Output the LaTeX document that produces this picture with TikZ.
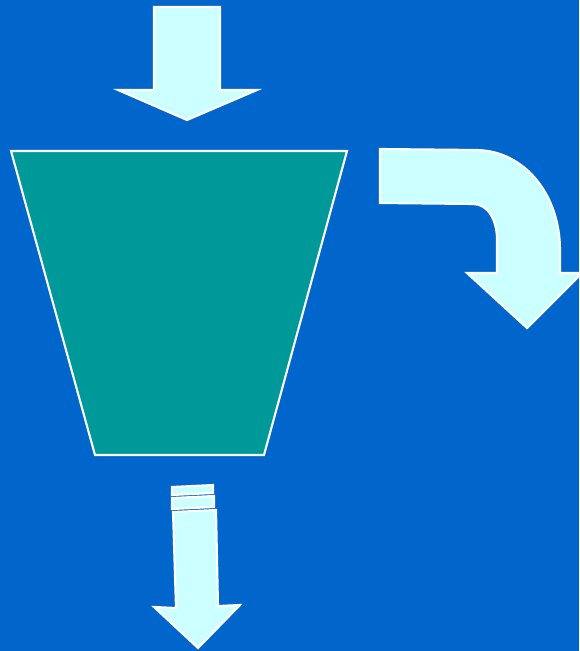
\documentclass[tikz,border=0pt]{standalone}
\usepackage{tikz}
\definecolor{FlowBlue}{HTML}{0066CC}
\definecolor{FlowTeal}{HTML}{009999}
\definecolor{FlowIce}{HTML}{CCFFFF}
\begin{document}
\begin{tikzpicture}[
      x=0.02cm,y=-0.02cm,
      vessel/.style={draw=white,fill=FlowTeal,line width=1.2pt,line join=miter},
      flowarrow/.style={draw=white,fill=FlowIce,line width=1.2pt,line join=miter}
    ]
    \fill[FlowBlue] (0,0) rectangle (579,651);
    \path[use as bounding box] (0,0) rectangle (579,651);

    % feed arrow
    \draw[flowarrow] (154,7) -- (220,7) -- (220,90) -- (257,90) -- (187,120)
      -- (118,90) -- (154,90) -- cycle;

    % vessel
    \draw[vessel] (11,151) -- (347,151) -- (264,455) -- (95,455) -- cycle;

    % overflow arrow
    \draw[flowarrow] (380,149) -- (477,150)
      .. controls (525,151) and (560,195) .. (560,250)
      -- (560,273) -- (582,273) -- (527,328) -- (467,273) -- (497,273)
      -- (497,240) .. controls (497,220) and (488,204) .. (473,204)
      -- (380,203) -- cycle;

    % underflow arrow
    \draw[flowarrow] (172,487) -- (213,485) -- (213,493) -- (172,495) -- cycle;
    \draw[flowarrow] (172,498) -- (214,496) -- (214,507) -- (172,509) -- cycle;
    \draw[flowarrow] (173,512) -- (216,510) -- (218,606) -- (240,605)
      -- (198,648) -- (154,607) -- (176,608) -- cycle;
  \end{tikzpicture}
\end{document}
